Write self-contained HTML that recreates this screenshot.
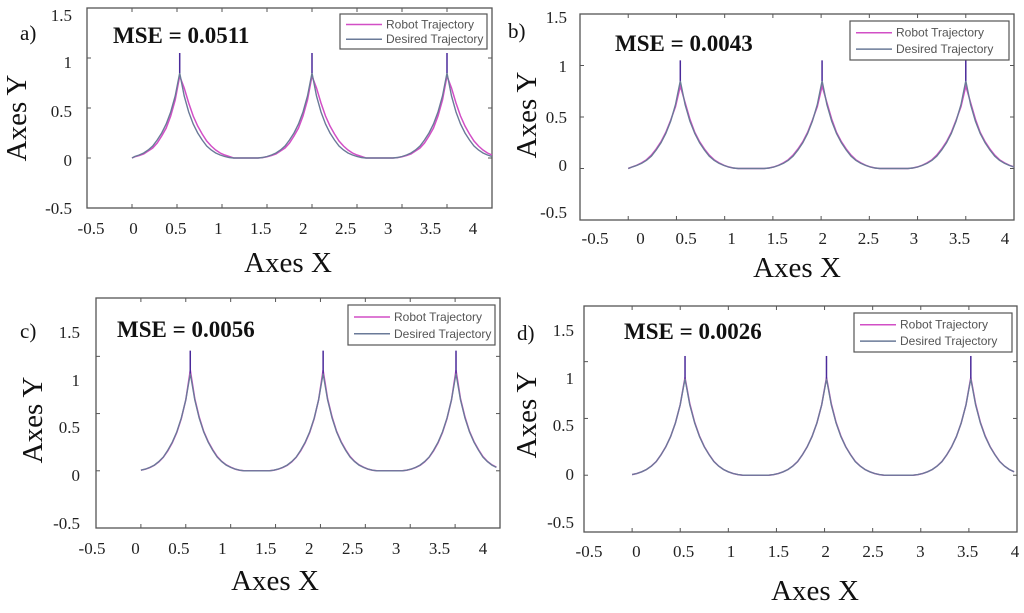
<!DOCTYPE html>
<html><head><meta charset="utf-8"><style>
html,body{margin:0;padding:0;background:#fff;}
svg{display:block;}
.tk{font-family:"Liberation Serif",serif;font-size:17px;fill:#222;}
.ttl{font-family:"Liberation Serif",serif;font-size:29px;fill:#111;}
.mse{font-family:"Liberation Serif",serif;font-size:23px;font-weight:bold;fill:#111;}
.lg{font-family:"Liberation Sans",sans-serif;font-size:12px;fill:#555;}
.pl{font-family:"Liberation Serif",serif;font-size:21px;fill:#111;}
</style></head><body>
<svg id="fig" width="1024" height="613" viewBox="0 0 1024 613"></svg>
<script>
// Data arrays
const xTicks = [-0.5,0,0.5,1,1.5,2,2.5,3,3.5,4];
const xTickLabels = ["-0.5","0","0.5","1","1.5","2","2.5","3","3.5","4"];
const yTicks = [1.5,1,0.5,0,-0.5];
const yTickLabels = ["1.5","1","0.5","0","-0.5"];
const profileOffsets = [-0.6,-0.55,-0.5,-0.45,-0.4,-0.35,-0.3,-0.25,-0.2,-0.15,-0.1,-0.05,0,0.05,0.1,0.15,0.2,0.25,0.3,0.35,0.4,0.45,0.5,0.55,0.6];
const desiredProfile = [0,0.005,0.015,0.03,0.05,0.08,0.12,0.18,0.25,0.34,0.46,0.62,0.85,0.62,0.46,0.34,0.25,0.18,0.12,0.08,0.05,0.03,0.015,0.005,0];
const robotProfileA = [0,0.004,0.012,0.025,0.04,0.07,0.10,0.15,0.22,0.30,0.42,0.58,0.82,0.70,0.55,0.42,0.32,0.24,0.17,0.12,0.08,0.05,0.03,0.015,0];
const robotProfileB = [0,0.005,0.016,0.032,0.055,0.085,0.13,0.19,0.26,0.35,0.47,0.60,0.80,0.64,0.48,0.35,0.26,0.19,0.13,0.085,0.055,0.032,0.016,0.005,0];
const robotProfileC = [0,0.005,0.014,0.028,0.048,0.078,0.118,0.175,0.245,0.335,0.455,0.62,0.88,0.63,0.47,0.345,0.255,0.185,0.125,0.082,0.052,0.031,0.015,0.005,0];
const robotProfileD = [0,0.005,0.015,0.03,0.05,0.08,0.12,0.18,0.25,0.34,0.46,0.62,0.86,0.63,0.465,0.345,0.252,0.182,0.122,0.08,0.05,0.03,0.015,0.005,0];
const peaksA = [0.53,2.0,3.5];
const peaksB = [0.54,2.01,3.5];
const peaksC = [0.55,2.03,3.51];
const peaksD = [0.55,2.02,3.52];
const spikeTops = [1.05,1.05,1.05];
const mseValues = ["0.0511","0.0043","0.0056","0.0026"];
const panelLetters = ["a)","b)","c)","d)"];

const panels = [
 {id:"a",L:87,T:8,R:492,B:208,ymax:1.5,peaks:peaksA,robot:robotProfileA,xl0:91,xl1:473,xly:234,ylx:72,yl:[15,62,111,160,208],tx:[17,118],xx:[288,272],let:[20,40],mse:[113,43],leg:[340,14,147,35]},
 {id:"b",L:580,T:14,R:1014,B:220,ymax:1.5,peaks:peaksB,robot:robotProfileB,xl0:595,xl1:1005,xly:244,ylx:567,yl:[17,66,117,165,212],tx:[527,115],xx:[797,277],let:[508,38],mse:[615,51],leg:[850,21,159,39]},
 {id:"c",L:96,T:298,R:500,B:528,ymax:1.51,peaks:peaksC,robot:robotProfileC,xl0:92,xl1:483,xly:554,ylx:80,yl:[332,380,427,475,523],tx:[33,420],xx:[275,590],let:[20,338],mse:[117,337],leg:[348,305,147,40]},
 {id:"d",L:584,T:306,R:1017,B:532,ymax:1.49,peaks:peaksD,robot:robotProfileD,xl0:589,xl1:1015,xly:557,ylx:574,yl:[330,378,425,474,522],tx:[527,415],xx:[815,600],let:[517,340],mse:[624,339],leg:[854,313,158,39]}
];
const NS="http://www.w3.org/2000/svg";
const svg=document.getElementById("fig");
function mk(tag,attrs,parent){const e=document.createElementNS(NS,tag);for(const k in attrs)e.setAttribute(k,attrs[k]);(parent||svg).appendChild(e);return e;}

panels.forEach((p,pi)=>{
  const g=mk("g",{});
  
  
  const xs=v=>p.L+(v+0.5)/4.5*(p.R-p.L);
  const ys=v=>p.B-(v+0.5)/(p.ymax+0.5)*(p.B-p.T);
  const box=mk("rect",{x:p.L,y:p.T,width:p.R-p.L,height:p.B-p.T,fill:"none",stroke:"#555","stroke-width":1.3},g);
  
  
  xTicks.forEach(t=>{const x=xs(t);mk("line",{x1:x,x2:x,y1:p.B,y2:p.B-4,stroke:"#555"},g);mk("line",{x1:x,x2:x,y1:p.T,y2:p.T+4,stroke:"#555"},g);});
  [1,0.5,0,-0.5].forEach(t=>{const y=ys(t);mk("line",{x1:p.L,x2:p.L+4,y1:y,y2:y,stroke:"#555"},g);mk("line",{x1:p.R,x2:p.R-4,y1:y,y2:y,stroke:"#555"},g);});
  xTickLabels.forEach((s,i)=>{const t=mk("text",{x:p.xl0+i*(p.xl1-p.xl0)/9,y:p.xly,"text-anchor":"middle",class:"tk"},g);t.textContent=s;
    
    });
  yTickLabels.forEach((s,i)=>{const t=mk("text",{x:p.ylx,y:p.yl[i]+6,"text-anchor":"end",class:"tk"},g);t.textContent=s;
    
    });
  const ty=mk("text",{x:p.tx[0],y:p.tx[1],"text-anchor":"middle",class:"ttl",transform:`rotate(-90 ${p.tx[0]} ${p.tx[1]})`,"dominant-baseline":"central"},g);ty.textContent="Axes Y";
  
  
  const tx=mk("text",{x:p.xx[0],y:p.xx[1],"text-anchor":"middle",class:"ttl"},g);tx.textContent="Axes X";
  
  
  const lt=mk("text",{x:p.let[0],y:p.let[1],class:"pl"},g);lt.textContent=panelLetters[pi];
  
  
  const ms=mk("text",{x:p.mse[0],y:p.mse[1],class:"mse"},g);ms.textContent="MSE = "+mseValues[pi];
  
  
  function buildPath(profile){
    let pts=[];
    p.peaks.forEach(pk=>{profileOffsets.forEach((o,i)=>{const x=pk+o;if(x>=0&&x<=4)pts.push([x,profile[i]]);});});
    if(pts[0][0]>0)pts.unshift([0,0]);
    return pts.map((q,i)=>(i?"L":"M")+xs(q[0]).toFixed(1)+","+ys(q[1]).toFixed(1)).join("");
  }
  const cg=mk("g",{},g);
  const rp=mk("path",{d:buildPath(p.robot),fill:"none",stroke:"#d24fc6","stroke-width":1.5},cg);
  
  
  const dp=mk("path",{d:buildPath(desiredProfile),fill:"none",stroke:"#6a7a98","stroke-width":1.4},cg);
  
  
  p.peaks.forEach((pk,i)=>{const x=xs(pk);
    const s=mk("line",{x1:x,x2:x,y1:ys(desiredProfile[12]),y2:ys(spikeTops[i]),stroke:"#4a2a9a","stroke-width":1.5},g);
    
    });
  const [lx,ly,lw,lh]=p.leg;
  const lg=mk("g",{},g);
  
  
  mk("rect",{x:lx,y:ly,width:lw,height:lh,fill:"#fff",stroke:"#555","stroke-width":1.2},lg);
  mk("line",{x1:lx+6,x2:lx+42,y1:ly+lh*0.3,y2:ly+lh*0.3,stroke:"#d24fc6","stroke-width":1.5},lg);
  mk("line",{x1:lx+6,x2:lx+42,y1:ly+lh*0.72,y2:ly+lh*0.72,stroke:"#6a7a98","stroke-width":1.5},lg);
  const l1=mk("text",{x:lx+46,y:ly+lh*0.3+4,class:"lg"},lg);l1.textContent="Robot Trajectory";
  
  
  const l2=mk("text",{x:lx+46,y:ly+lh*0.72+4,class:"lg"},lg);l2.textContent="Desired Trajectory";
  
  
});
</script>
</body></html>
